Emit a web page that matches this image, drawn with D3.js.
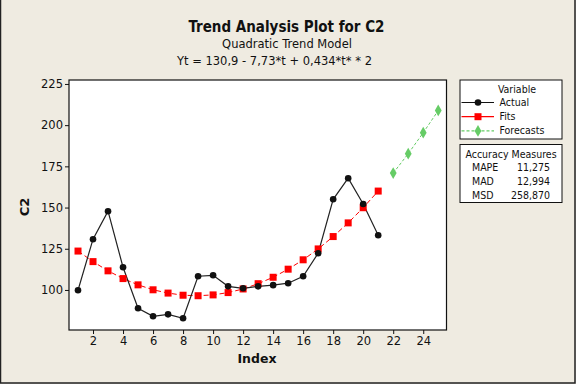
<!DOCTYPE html>
<html>
<head>
<meta charset="utf-8">
<script src="https://cdn.jsdelivr.net/npm/d3@7"></script>
<style>
  body { margin: 0; background: #efebe1; }
  text { font-family: "DejaVu Sans", Verdana, sans-serif; fill: #111; }
  .cond { font-family: "DejaVu Sans Condensed", "DejaVu Sans", sans-serif; }
</style>
</head>
<body>
<script>
// data
const index = [1,2,3,4,5,6,7,8,9,10,11,12,13,14,15,16,17,18,19,20,21];
const actual = [99.8,130.8,147.8,113.8,88.9,84.0,85.2,82.8,108.3,108.9,102.2,101.0,102.2,102.9,104.1,108.3,122.3,155.0,167.8,152.2,133.2];
const fits = [123.6,117.2,111.6,106.9,103.1,100.1,98.1,96.8,96.5,97.0,98.4,100.6,103.8,107.7,112.6,118.3,124.9,132.4,140.7,149.9,160.0];
const fcIndex = [22,23,24,25];
const forecasts = [170.9,182.7,195.4,208.9];
const xTicks = [2,4,6,8,10,12,14,16,18,20,22,24];
const yTicks = [100,125,150,175,200,225];
const accLabels = ["MAPE","MAD","MSD"];
const accValues = ["11,275","12,994","258,870"];

const W = 576, H = 384;
const L = 69, R = 446.5, T = 80, B = 330;

const svg = d3.select("body").append("svg")
  .attr("width", W).attr("height", H);

svg.append("rect").attr("width", W).attr("height", H).attr("fill", "#efebe1");
// outer border
svg.append("path").attr("d", `M0.5,0 V383 H575 V0`).attr("fill", "none")
  .attr("stroke", "#222").attr("stroke-width", 1.5);

const x = d3.scaleLinear().domain([0.4, 25.55]).range([L, R]);
const y = d3.scaleLinear().domain([75.7, 227.4]).range([B, T]);

svg.append("rect").attr("x", L).attr("y", T).attr("width", R - L).attr("height", B - T)
  .attr("fill", "#fff").attr("stroke", "#111").attr("stroke-width", 1.2);

// axes
const xAxis = svg.append("g").attr("transform", `translate(0,${B})`)
  .call(d3.axisBottom(x).tickValues(xTicks).tickSize(4).tickPadding(3));
const yAxis = svg.append("g").attr("transform", `translate(${L},0)`)
  .call(d3.axisLeft(y).tickValues(yTicks).tickSize(4).tickPadding(2));
[xAxis, yAxis].forEach(g => {
  g.select(".domain").remove();
  g.selectAll("line").attr("stroke", "#111");
  g.selectAll("text").style("font-size", "11.5px").attr("fill", "#111");
});

svg.append("text").attr("x", 257).attr("y", 363).attr("text-anchor", "middle")
  .style("font-size", "12.5px").style("font-weight", "bold").text("Index");
svg.append("text").attr("transform", "translate(29,207) rotate(-90)").attr("text-anchor", "middle")
  .style("font-size", "13px").style("font-weight", "bold").text("C2");

// titles
svg.append("text").attr("class", "cond").attr("x", 286.5).attr("y", 31.5).attr("text-anchor", "middle")
  .style("font-size", "15px").style("font-weight", "bold").text("Trend Analysis Plot for C2");
svg.append("text").attr("x", 287).attr("y", 48).attr("text-anchor", "middle")
  .style("font-size", "11.5px").text("Quadratic Trend Model");
svg.append("text").attr("x", 274.5).attr("y", 65).attr("text-anchor", "middle")
  .style("font-size", "11.5px").text("Yt = 130,9 - 7,73*t + 0,434*t* * 2");

// series
const line = d3.line().x(d => x(d[0])).y(d => y(d[1]));
const actPts = index.map((t, i) => [t, actual[i]]);
const fitPts = index.map((t, i) => [t, fits[i]]);
const fcPts = fcIndex.map((t, i) => [t, forecasts[i]]);

const plot = svg.append("g");
plot.append("path").datum(fcPts).attr("d", line).attr("fill", "none")
  .attr("stroke", "#66cc66").attr("stroke-width", 1).attr("stroke-dasharray", "3,2");
plot.append("path").datum(fitPts).attr("d", line).attr("fill", "none")
  .attr("stroke", "#ff0000").attr("stroke-width", 1).attr("stroke-dasharray", "5,3");
plot.append("path").datum(actPts).attr("d", line).attr("fill", "none")
  .attr("stroke", "#222").attr("stroke-width", 1.2);

const diamond = d3.symbol().type(d3.symbolDiamond).size(40);
plot.selectAll(".fc").data(fcPts).enter().append("path")
  .attr("transform", d => `translate(${x(d[0])},${y(d[1])})`)
  .attr("d", diamond).attr("fill", "#66cc66");
plot.selectAll(".fit").data(fitPts).enter().append("rect")
  .attr("x", d => x(d[0]) - 3.5).attr("y", d => y(d[1]) - 3.5)
  .attr("width", 7).attr("height", 7).attr("fill", "#ff0000");
plot.selectAll(".act").data(actPts).enter().append("circle")
  .attr("cx", d => x(d[0])).attr("cy", d => y(d[1])).attr("r", 3.3).attr("fill", "#111");

// legend
const lg = svg.append("g");
lg.append("rect").attr("x", 460).attr("y", 80).attr("width", 102).attr("height", 59)
  .attr("fill", "#fff").attr("stroke", "#111");
lg.append("text").attr("class", "cond").attr("x", 517).attr("y", 93).attr("text-anchor", "middle")
  .style("font-size", "10.5px").text("Variable");
const items = [
  {name: "Actual", color: "#111", dash: null},
  {name: "Fits", color: "#ff0000", dash: null},
  {name: "Forecasts", color: "#66cc66", dash: "3,2"}
];
items.forEach((it, i) => {
  const yy = 102.5 + i * 14.2;
  lg.append("line").attr("x1", 461.5).attr("x2", 494).attr("y1", yy).attr("y2", yy)
    .attr("stroke", it.color).attr("stroke-width", 1.2).attr("stroke-dasharray", it.dash);
  if (i === 0) lg.append("circle").attr("cx", 478).attr("cy", yy).attr("r", 3.3).attr("fill", it.color);
  if (i === 1) lg.append("rect").attr("x", 474.5).attr("y", yy - 3.5).attr("width", 7).attr("height", 7).attr("fill", it.color);
  if (i === 2) lg.append("path").attr("transform", `translate(478,${yy})`).attr("d", diamond).attr("fill", it.color);
  lg.append("text").attr("class", "cond").attr("x", 499.5).attr("y", yy + 3.5).style("font-size", "10.5px").text(it.name);
});

// accuracy box
const ab = svg.append("g");
ab.append("rect").attr("x", 460).attr("y", 144.5).attr("width", 102).attr("height", 58)
  .attr("fill", "#fff").attr("stroke", "#111");
ab.append("text").attr("class", "cond").attr("x", 511).attr("y", 157.5).attr("text-anchor", "middle")
  .style("font-size", "10.5px").text("Accuracy Measures");
accLabels.forEach((lab, i) => {
  const yy = 170.5 + i * 14;
  ab.append("text").attr("class", "cond").attr("x", 472).attr("y", yy).style("font-size", "10.5px").text(lab);
  ab.append("text").attr("class", "cond").attr("x", 550).attr("y", yy).attr("text-anchor", "end")
    .style("font-size", "10.5px").text(accValues[i]);
});
</script>
</body>
</html>
